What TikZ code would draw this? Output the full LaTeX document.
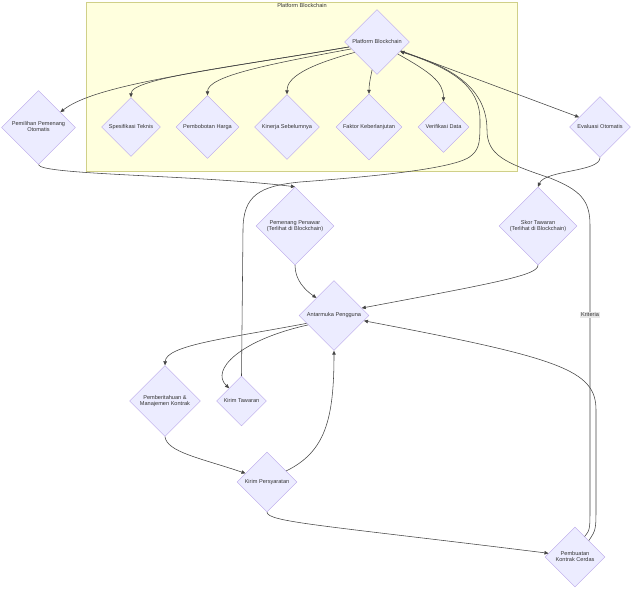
\documentclass[tikz,border=0pt]{standalone}
\usepackage{fontspec}
\setmainfont{Liberation Sans}
\usetikzlibrary{shapes.geometric,arrows.meta}
\definecolor{nodefill}{HTML}{ECECFF}
\definecolor{nodeline}{HTML}{B7A3E8}
\definecolor{clusterfill}{HTML}{FFFFDE}
\definecolor{clusterline}{HTML}{D0D088}
\definecolor{edgecol}{HTML}{444444}
\definecolor{txt}{HTML}{333333}
\definecolor{lblbg}{HTML}{E8E8E8}
\newcommand\dtx[1]{\makebox[0pt]{\begin{tabular}{@{}c@{}}#1\end{tabular}}}
\tikzset{
  dm/.style={diamond, aspect=1, draw=nodeline, fill=nodefill, line width=0.4pt,
    inner sep=0pt, minimum width=#1, minimum height=#1, text=txt,
    font=\fontsize{5.6}{6}\selectfont},
  conn/.style={draw=edgecol, line width=0.55pt, -{Triangle[length=4pt,width=3.5pt]}},
  lbl/.style={fill=lblbg, inner sep=1pt, text=txt, font=\fontsize{5.6}{6}\selectfont},
  cltext/.style={text=txt, font=\fontsize{5.6}{6}\selectfont, inner sep=0.5pt}
}
\begin{document}
\begin{tikzpicture}[x=1pt,y=-1pt]
\useasboundingbox (0,0) rectangle (640,596);
\fill[white] (0,0) rectangle (640,596);
% cluster
\draw[draw=clusterline, fill=clusterfill, line width=0.5pt] (86,2) rectangle (517.5,171);
\node[cltext, anchor=north] (cl) at (302,2.5) {Platform Blockchain};
% nodes
\node[dm=65] (PB) at (377,42) {\dtx{Platform Blockchain}};
\node[dm=74] (PPO) at (38.5,127.5) {\dtx{Pemilihan Pemenang\\Otomatis}};
\node[dm=59] (ST) at (131,127) {\dtx{Spesifikasi Teknis}};
\node[dm=63] (PH) at (207.5,127) {\dtx{Pembobotan Harga}};
\node[dm=65] (KS) at (287,127) {\dtx{Kinerja Sebelumnya}};
\node[dm=66] (FK) at (369,127) {\dtx{Faktor Keberlanjutan}};
\node[dm=51] (VD) at (443.5,127) {\dtx{Verifikasi Data}};
\node[dm=61] (EO) at (600,127) {\dtx{Evaluasi Otomatis}};
\node[dm=78] (PP) at (295,226) {\dtx{Pemenang Penawar\\(Terlihat di Blockchain)}};
\node[dm=78] (SK) at (538,226) {\dtx{Skor Tawaran\\(Terlihat di Blockchain)}};
\node[dm=70] (AP) at (334,315.5) {\dtx{Antarmuka Pengguna}};
\node[dm=71] (PM) at (165,401) {\dtx{Pemberitahuan \&\\Manajemen Kontrak}};
\node[dm=50] (KT) at (241.5,401) {\dtx{Kirim Tawaran}};
\node[dm=60] (KP) at (267,482) {\dtx{Kirim Persyaratan}};
\node[dm=60] (PK) at (575,557) {\dtx{Pembuatan\\Kontrak Cerdas}};
% edges from platform
\draw[conn] (PB.190) .. controls (200,72) and (95,85) .. (PPO.35);
\draw[conn] (PB.190) .. controls (240,66) and (131,78) .. (ST.north);
\draw[conn] (PB.195) .. controls (270,64) and (207.5,76) .. (PH.north);
\draw[conn] (PB.205) .. controls (305,66) and (287,78) .. (KS.north);
\draw[conn] (PB.260) .. controls (370,80) and (369,85) .. (FK.north);
\draw[conn] (PB.-30) .. controls (430,72) and (443.5,82) .. (VD.north);
\draw[conn] (PB.-20) -- (EO.155);
% KT -> PB
\draw[conn] (KT.north) -- (243,230) .. controls (243,195) and (260,186) .. (300,182)
  .. controls (380,176) and (460,168) .. (472,155)
  .. controls (480,148) and (480,140) .. (480,120)
  .. controls (480,85) and (450,68) .. (PB.-22);
% PK -> PB (Kriteria)
\draw[conn] (PK.65) .. controls (590,530) .. (590,505)
  -- node[lbl, pos=0.68] (kr) {Kriteria} (590,225)
  .. controls (590,200) and (580,190) .. (550,178)
  .. controls (505,163) and (487,155) .. (487,130)
  .. controls (487,90) and (455,68) .. (PB.-22);
% PK -> AP
\draw[conn] (PK.50) .. controls (596,530) .. (596,505) -- (596,410)
  .. controls (596,370) and (560,358) .. (AP.-10);
% others
\draw[conn] (EO.south) .. controls (600,172) and (545,170) .. (SK.north);
\draw[conn] (PPO.south) .. controls (40,175) and (200,175) .. (PP.north);
\draw[conn] (SK.south) .. controls (538,275) and (500,282) .. (AP.15);
\draw[conn] (PP.south) .. controls (295,280) and (305,290) .. (AP.135);
\draw[conn] (AP.196) .. controls (230,338) and (166,345) .. (PM.north);
\draw[conn] (AP.200) .. controls (240,340) and (210,370) .. (KT.134);
\draw[conn] (PM.south) .. controls (167,452) and (200,458) .. (KP.158);
\draw[conn] (KP.30) .. controls (325,452) and (334,420) .. (AP.south);
\draw[conn] (KP.south) .. controls (268,522) and (320,525) .. (PK.172);
\end{tikzpicture}
\end{document}
